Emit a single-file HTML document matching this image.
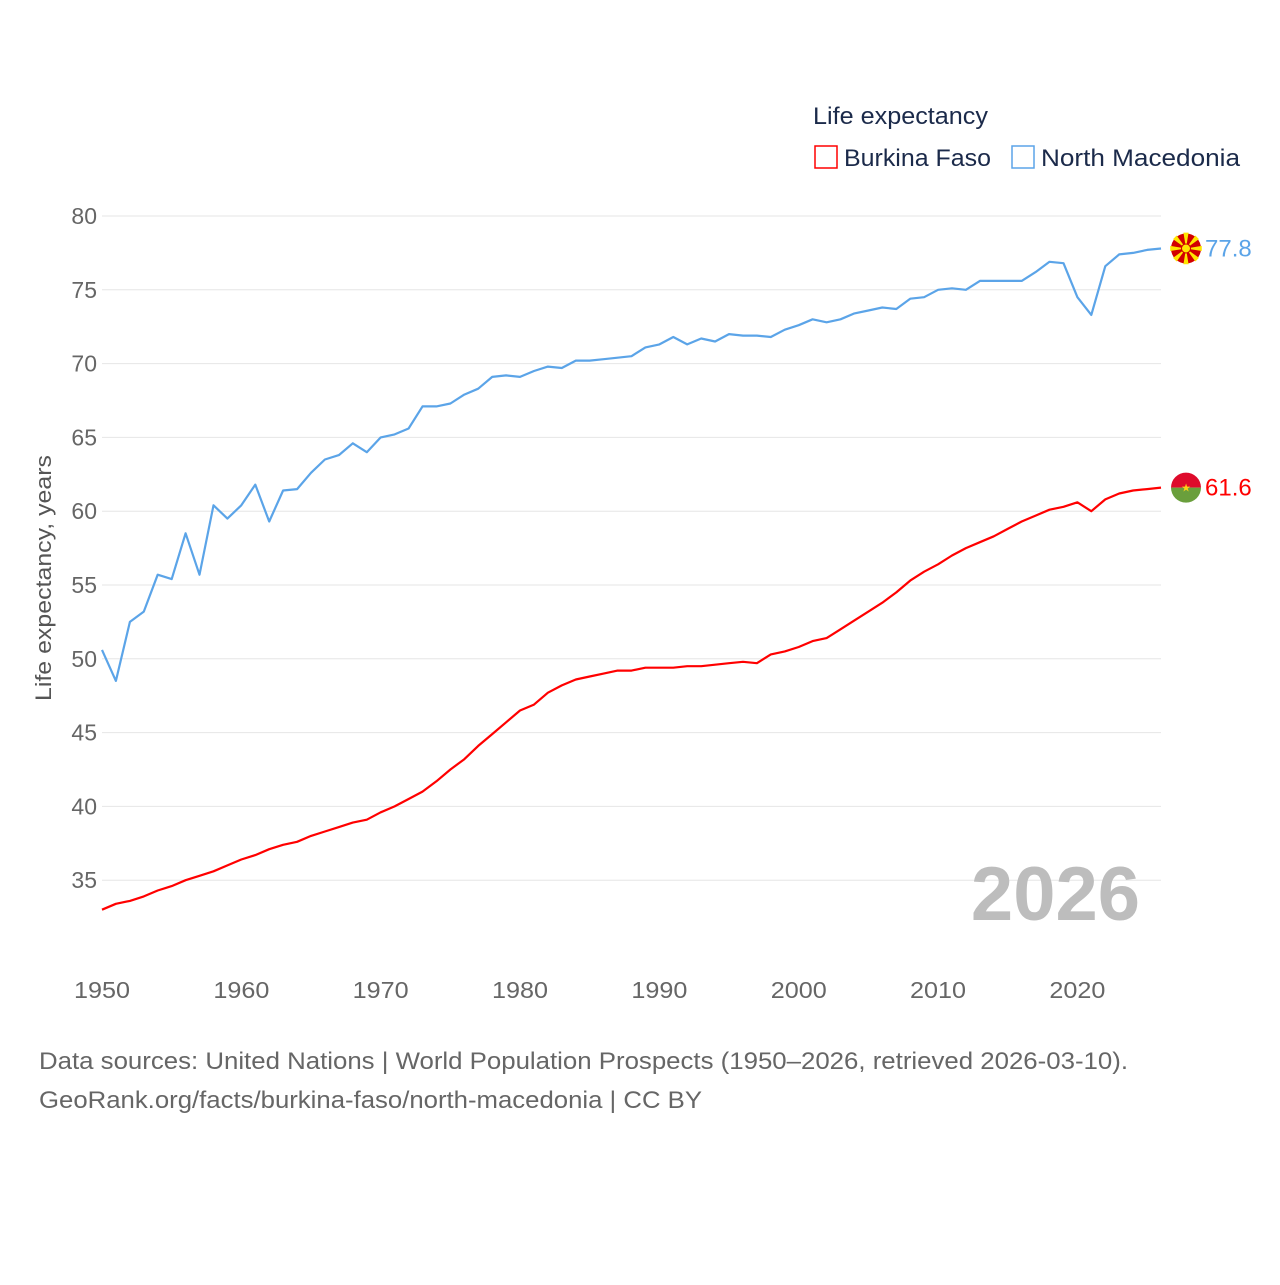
<!DOCTYPE html>
<html><head><meta charset="utf-8">
<style>
body{margin:0;background:#fff;font-family:"Liberation Sans",sans-serif;}
svg text{font-family:"Liberation Sans",sans-serif;}
</style></head>
<body>
<svg id="chart" width="1280" height="1280" viewBox="0 0 1280 1280" xmlns="http://www.w3.org/2000/svg">
<rect width="1280" height="1280" fill="#fff"/>
<g>
<text x="813" y="124" font-size="24" fill="#1b2a4a" textLength="175" lengthAdjust="spacingAndGlyphs">Life expectancy</text>
<g>
<rect x="815" y="146" width="22" height="22" fill="none" stroke="#ff0000" stroke-width="1.5"/>
<text x="844" y="166" font-size="24" fill="#1b2a4a" textLength="147" lengthAdjust="spacingAndGlyphs">Burkina Faso</text></g>
<g>
<rect x="1012" y="146" width="22" height="22" fill="none" stroke="#5ba4e8" stroke-width="1.5"/>
<text x="1041" y="166" font-size="24" fill="#1b2a4a" textLength="199" lengthAdjust="spacingAndGlyphs">North Macedonia</text></g>
</g>
<g id="grid"></g>
<g id="yticks"></g>
<g id="xticks"></g>
<text transform="translate(51,578) rotate(-90)" text-anchor="middle" font-size="22" fill="#555" textLength="246" lengthAdjust="spacingAndGlyphs">Life expectancy, years</text>
<text x="1140" y="920" text-anchor="end" font-size="76" font-weight="bold" fill="#bdbdbd">2026</text>
<g id="series"></g>
<g font-size="24" fill="#666">
<text x="39" y="1069" textLength="1089" lengthAdjust="spacingAndGlyphs">Data sources: United Nations | World Population Prospects (1950–2026, retrieved 2026-03-10).</text>
<text x="39" y="1108" textLength="663" lengthAdjust="spacingAndGlyphs">GeoRank.org/facts/burkina-faso/north-macedonia | CC BY</text>
</g>
</svg>
<script>
const years = [];
for (let y = 1950; y <= 2026; y++) years.push(y);
const yTicks = [35,40,45,50,55,60,65,70,75,80];
const xTicks = [1950,1960,1970,1980,1990,2000,2010,2020];
const northMacedonia = [50.6,48.5,52.5,53.2,55.7,55.4,58.5,55.7,60.4,59.5,60.4,61.8,59.3,61.4,61.5,62.6,63.5,63.8,64.6,64.0,65.0,65.2,65.6,67.1,67.1,67.3,67.9,68.3,69.1,69.2,69.1,69.5,69.8,69.7,70.2,70.2,70.3,70.4,70.5,71.1,71.3,71.8,71.3,71.7,71.5,72.0,71.9,71.9,71.8,72.3,72.6,73.0,72.8,73.0,73.4,73.6,73.8,73.7,74.4,74.5,75.0,75.1,75.0,75.6,75.6,75.6,75.6,76.2,76.9,76.8,74.5,73.3,76.6,77.4,77.5,77.7,77.8];
const burkinaFaso = [33.0,33.4,33.6,33.9,34.3,34.6,35.0,35.3,35.6,36.0,36.4,36.7,37.1,37.4,37.6,38.0,38.3,38.6,38.9,39.1,39.6,40.0,40.5,41.0,41.7,42.5,43.2,44.1,44.9,45.7,46.5,46.9,47.7,48.2,48.6,48.8,49.0,49.2,49.2,49.4,49.4,49.4,49.5,49.5,49.6,49.7,49.8,49.7,50.3,50.5,50.8,51.2,51.4,52.0,52.6,53.2,53.8,54.5,55.3,55.9,56.4,57.0,57.5,57.9,58.3,58.8,59.3,59.7,60.1,60.3,60.6,60.0,60.8,61.2,61.4,61.5,61.6];
const NS = "http://www.w3.org/2000/svg";
const xS = v => 102 + (v - 1950) * (1161 - 102) / 76;
const yS = v => 216 + (80 - v) * 14.76;
function mk(tag, attrs, parent){const e=document.createElementNS(NS,tag);for(const k in attrs)e.setAttribute(k,attrs[k]);parent.appendChild(e);return e;}
const grid=document.getElementById('grid'), yt=document.getElementById('yticks'), xt=document.getElementById('xticks'), ser=document.getElementById('series');
yTicks.forEach(t=>{
  const l=mk('line',{x1:102,x2:1161,y1:yS(t),y2:yS(t),stroke:'#e6e6e6','stroke-width':1},grid);
  
  
  const tx=mk('text',{x:97,y:yS(t)+8,'text-anchor':'end','font-size':23,fill:'#666'},yt);
  tx.textContent=t;
  
  
});
xTicks.forEach(t=>{
  const tx=mk('text',{x:xS(t),y:998,'text-anchor':'middle','font-size':23,fill:'#666',textLength:56,lengthAdjust:'spacingAndGlyphs'},xt);
  tx.textContent=t;
  
  
});
function line(vals,color,name){
  const d=vals.map((v,i)=>(i?'L':'M')+xS(years[i]).toFixed(1)+','+yS(v).toFixed(1)).join('');
  const p=mk('path',{d:d,fill:'none',stroke:color,'stroke-width':2.2,'stroke-linejoin':'round'},ser);
  
  
}
line(northMacedonia,'#5ba4e8','line-north-macedonia');
line(burkinaFaso,'#ff0000','line-burkina-faso');
const nmV=northMacedonia[northMacedonia.length-1], bfV=burkinaFaso[burkinaFaso.length-1];
const cx=1186;
const fm=mk('g',{},ser);


const cy1=yS(nmV);
mk('circle',{cx:cx,cy:cy1,r:15,fill:'#d20000'},fm);
for(let a=0;a<8;a++){const ang=a*Math.PI/4;const w=0.16;
  const p=[[cx,cy1],[cx+16*Math.cos(ang-w),cy1+16*Math.sin(ang-w)],[cx+16*Math.cos(ang+w),cy1+16*Math.sin(ang+w)]];
  mk('polygon',{points:p.map(q=>q.join(',')).join(' '),fill:'#ffe600'},fm);}
mk('circle',{cx:cx,cy:cy1,r:4.5,fill:'#ffe600',stroke:'#d20000','stroke-width':1},fm);
const l1=mk('text',{x:1205,y:cy1+8,'font-size':24,fill:'#5ba4e8'},ser);
l1.textContent=nmV.toFixed(1);


const fb=mk('g',{},ser);


const cy2=yS(bfV);
mk('path',{d:`M${cx-15},${cy2} A15,15 0 0 1 ${cx+15},${cy2} Z`,fill:'#de0a2b'},fb);
mk('path',{d:`M${cx-15},${cy2} A15,15 0 0 0 ${cx+15},${cy2} Z`,fill:'#6a9f3c'},fb);
mk('text',{x:cx,y:cy2+4,'text-anchor':'middle','font-size':11,fill:'#fcd116'},fb).textContent='★';
const l2=mk('text',{x:1205,y:cy2+8,'font-size':24,fill:'#ff0000'},ser);
l2.textContent=bfV.toFixed(1);


</script>
</body></html>
